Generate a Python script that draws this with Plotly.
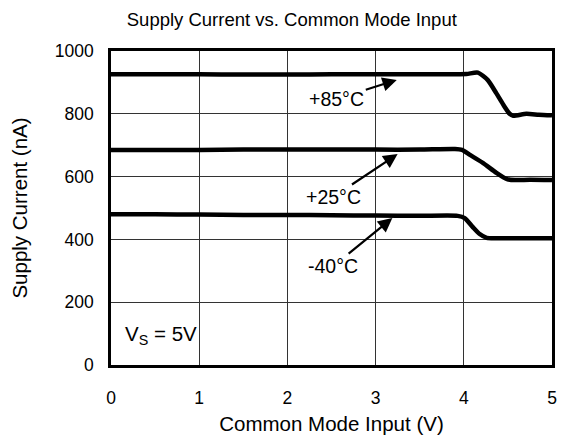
import plotly.graph_objects as go

# Common mode input (V) and supply current (nA)
x_85 = [0, 0.5, 1, 1.5, 2, 2.5, 3, 3.5, 3.8, 4.03, 4.16, 4.27, 4.37, 4.45, 4.52, 4.56, 4.71, 4.85, 5.0]
i_85 = [926, 926, 926, 925, 925, 926, 926, 926, 926, 927, 931, 908, 865, 828, 800, 794, 800, 797, 795]

x_25 = [0, 0.5, 1, 1.5, 2, 2.5, 3, 3.5, 3.9, 3.98, 4.07, 4.22, 4.37, 4.49, 4.58, 4.75, 5.0]
i_25 = [685, 685, 685, 686, 686, 686, 686, 686, 688, 685, 669, 643, 612, 592, 589, 590, 589]

x_m40 = [0, 0.5, 1, 1.5, 2, 2.5, 3, 3.5, 3.93, 4.01, 4.10, 4.18, 4.26, 4.41, 4.7, 5.0]
i_m40 = [480, 480, 479, 478, 478, 477, 476, 475, 475, 468, 440, 417, 405, 404, 404, 404]

x_ticks = [0, 1, 2, 3, 4, 5]
y_ticks = [0, 200, 400, 600, 800, 1000]

labels = ["+85°C", "+25°C", "-40°C"]
label_pos = [(2.56, 847), (2.52, 535), (2.52, 315)]
arrow_head = [(3.24, 908), (3.25, 672), (3.19, 468)]

FONT = "Liberation Sans, Arial, sans-serif"

fig = go.Figure()
for xs, ys in [(x_85, i_85), (x_25, i_25), (x_m40, i_m40)]:
    fig.add_trace(go.Scatter(x=xs, y=ys, mode="lines",
                             line=dict(color="black", width=4.5, shape="spline", smoothing=0.6),
                             showlegend=False, hoverinfo="skip"))

for txt, (lx, ly), (hx, hy) in zip(labels, label_pos, arrow_head):
    fig.add_annotation(x=hx, y=hy, ax=lx, ay=ly, xref="x", yref="y", axref="x", ayref="y",
                       text=txt, showarrow=True, arrowhead=2, arrowsize=1.3, arrowwidth=2.2,
                       arrowcolor="black", standoff=0, borderpad=1,
                       font=dict(size=19.5, color="black", family=FONT))

fig.add_annotation(x=0.14, y=96, xref="x", yref="y", xanchor="left", yanchor="middle",
                   text="V<sub>S</sub> = 5V", showarrow=False, bgcolor="white",
                   font=dict(size=20.5, color="black", family=FONT))

fig.update_layout(
    width=562, height=431,
    margin=dict(l=103, r=18, t=43, b=74, autoexpand=False),
    paper_bgcolor="white", plot_bgcolor="white",
    font=dict(family=FONT, size=17.5, color="black"),
    title=dict(text="Supply Current vs. Common Mode Input", x=0.505, xanchor="center",
               y=0.974, yanchor="middle", font=dict(size=18.5, family=FONT, color="black")),
)
fig.update_xaxes(range=[0, 5], tickvals=x_ticks, ticktext=[str(v) for v in x_ticks],
                 showgrid=True, gridcolor="#333333", gridwidth=1,
                 showline=True, linecolor="black", linewidth=2.5, mirror=True,
                 ticks="", ticklabelstandoff=15, zeroline=False, automargin=False,
                 title=dict(text="Common Mode Input (V)", standoff=10, font=dict(size=20.5)),
                 tickfont=dict(size=17.5))
fig.update_yaxes(range=[0, 1000], tickvals=y_ticks, ticktext=[str(v) for v in y_ticks],
                 showgrid=True, gridcolor="#333333", gridwidth=1,
                 showline=True, linecolor="black", linewidth=2.5, mirror=True,
                 ticks="", ticklabelstandoff=11, zeroline=False, automargin=False,
                 title=dict(text="Supply Current (nA)", standoff=32, font=dict(size=20.5)),
                 tickfont=dict(size=17.5))

fig.write_html("out.html")
